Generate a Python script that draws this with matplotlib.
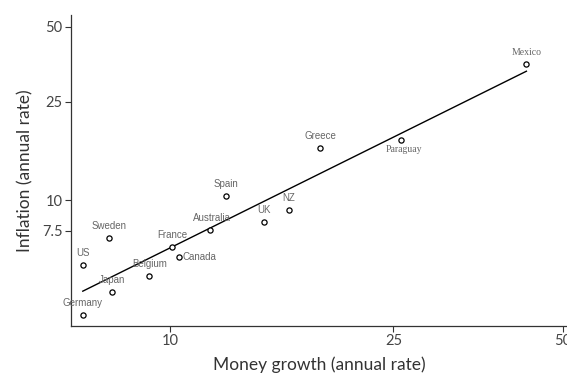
import matplotlib
matplotlib.use("Agg")
import matplotlib.pyplot as plt
import numpy as np

# Data (money growth vs inflation, annual rates)
countries = ["Mexico", "Paraguay", "Greece", "Spain", "NZ", "UK", "Australia",
             "France", "Canada", "Belgium", "Sweden", "US", "Japan", "Germany"]
money_growth = [43.1, 25.8, 18.5, 12.6, 16.3, 14.7, 11.8,
                10.1, 10.4, 9.2, 7.8, 7.0, 7.9, 7.0]
inflation = [35.3, 17.5, 16.2, 10.4, 9.09, 8.17, 7.54,
             6.44, 5.87, 4.95, 7.04, 5.45, 4.24, 3.44]

x_ticks = [10, 25, 50]
y_ticks = [7.5, 10, 25, 50]

# label placement: (dx, dy, ha, va) in points, plus font family
label_style = {c: (0, 5, "center", "bottom", "sans") for c in countries}
label_style["Canada"] = (2.5, 0, "left", "center", "sans")
label_style["Paraguay"] = (2, -4, "center", "top", "serif")
label_style["Mexico"] = (0, 5, "center", "bottom", "serif")
label_style["Australia"] = (1.5, 5, "center", "bottom", "sans")

fig = plt.figure(figsize=(5.67, 3.76), dpi=100)
ax = fig.add_axes([71 / 567, 50 / 376, 496 / 567, 311 / 376])

ax.set_xscale("log")
ax.set_yscale("log")

ax.scatter(money_growth, inflation, s=14, facecolors="white", edgecolors="black",
           linewidths=0.9, zorder=3)

# least squares fit in log-log space
lx = np.log(money_growth)
ly = np.log(inflation)
slope, icpt = np.polyfit(lx, ly, 1)
xs = np.array([min(money_growth), max(money_growth)])
ax.plot(xs, np.exp(icpt + slope * np.log(xs)), color="black", lw=1.0, zorder=2)

for c, x, y in zip(countries, money_growth, inflation):
    dx, dy, ha, va, fam = label_style[c]
    fam = ["Liberation Serif"] if fam == "serif" else ["Liberation Sans"]
    ax.annotate(c, (x, y), xytext=(dx, dy), textcoords="offset points",
                ha=ha, va=va, fontsize=7, color="#666666", family=fam)

ax.set_xlim(6.67, 50.9)
ax.set_ylim(3.10, 55.9)

ax.set_xticks(x_ticks)
ax.set_xticklabels([str(t) for t in x_ticks])
ax.set_yticks(y_ticks)
ax.set_yticklabels([str(t) for t in y_ticks])
ax.xaxis.set_minor_locator(matplotlib.ticker.NullLocator())
ax.yaxis.set_minor_locator(matplotlib.ticker.NullLocator())

for side in ["top", "right"]:
    ax.spines[side].set_visible(False)
for side in ["left", "bottom"]:
    ax.spines[side].set_color("#333333")
    ax.spines[side].set_linewidth(0.9)

ax.tick_params(length=4, width=0.8, color="#333333", labelcolor="#444444",
               labelsize=10.5, pad=2)
for lab in ax.get_xticklabels() + ax.get_yticklabels():
    lab.set_family(["Lato", "DejaVu Sans"])

ax.set_xlabel("Money growth (annual rate)", fontsize=12.5, color="#333333",
              family=["Lato", "DejaVu Sans"], labelpad=6)
ax.set_ylabel("Inflation (annual rate)", fontsize=12.5, color="#333333",
              family=["Lato", "DejaVu Sans"], labelpad=6)

fig.savefig("out.png", dpi=100)
